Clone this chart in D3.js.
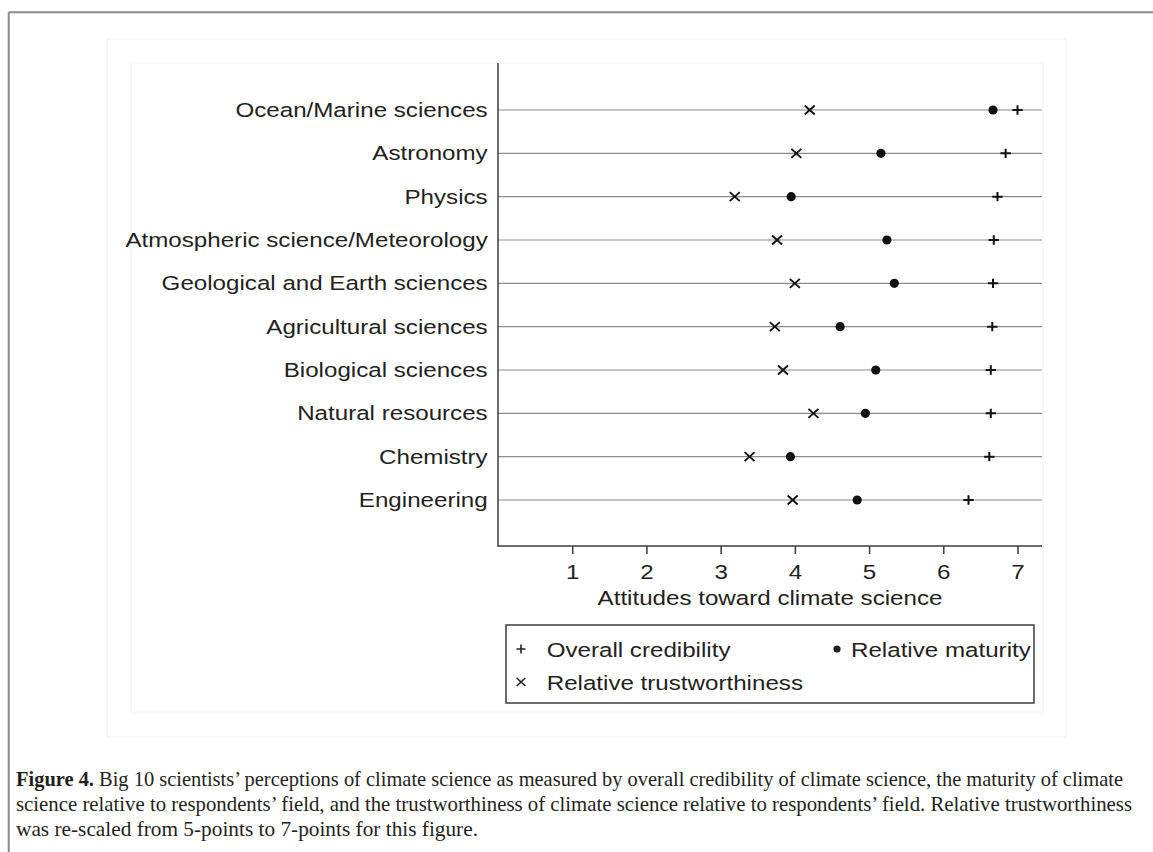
<!DOCTYPE html>
<html>
<head>
<meta charset="utf-8">
<script src="https://cdn.jsdelivr.net/npm/d3@7"></script>
<style>
  body { margin: 0; background: #ffffff; }
  svg { display: block; }
</style>
</head>
<body>
<script>
'use strict';

// fields, top to bottom
const fields = [
  "Ocean/Marine sciences",
  "Astronomy",
  "Physics",
  "Atmospheric science/Meteorology",
  "Geological and Earth sciences",
  "Agricultural sciences",
  "Biological sciences",
  "Natural resources",
  "Chemistry",
  "Engineering"
];

// values (1-7 scale)
const overallCredibility = [7.00, 6.84, 6.73, 6.68, 6.67, 6.66, 6.64, 6.64, 6.62, 6.34];
const relativeMaturity = [6.67, 5.16, 3.95, 5.24, 5.34, 4.61, 5.09, 4.95, 3.94, 4.84];
const relativeTrust = [4.20, 4.02, 3.19, 3.76, 4.00, 3.73, 3.84, 4.25, 3.39, 3.97];

const xTicks = [1, 2, 3, 4, 5, 6, 7];
const xTitle = "Attitudes toward climate science";

const legendLabels = ["Overall credibility", "Relative maturity", "Relative trustworthiness"];

const captionLines = [
  ["Figure 4.", " Big 10 scientists\u2019 perceptions of climate science as measured by overall credibility of climate science, the maturity of climate"],
  ["", "science relative to respondents\u2019 field, and the trustworthiness of climate science relative to respondents\u2019 field. Relative trustworthiness"],
  ["", "was re-scaled from 5-points to 7-points for this figure."]
];

(function() {

  let svg = "";
  const ink = "#231f20";
  const font = "'Liberation Sans', Arial, Helvetica, sans-serif";
  const fs = 20.3;   // glyph height of the chart text
  const sx = 1.19;   // the figure is stretched sideways

  // plot region
  const plot = { left: 498, right: 1042, top: 63, bottom: 546 };

  window.onload = function() {
    svg = d3.select('body')
      .append('svg')
      .attr('width', 1153)
      .attr('height', 852);

    drawFrames();
    let scales = drawAxes();
    plotData(scales);
    drawLegend();
    drawCaption();
  }

  // page border and the faint graph boxes
  function drawFrames() {
    svg.append('line')
      .attr('x1', 8.7).attr('x2', 1153).attr('y1', 12.3).attr('y2', 12.3)
      .attr('stroke', '#8a8a8a').attr('stroke-width', 2);
    svg.append('line')
      .attr('x1', 8.7).attr('x2', 8.7).attr('y1', 12.3).attr('y2', 852)
      .attr('stroke', '#8a8a8a').attr('stroke-width', 2);

    svg.append('rect')
      .attr('x', 107).attr('y', 39).attr('width', 959).attr('height', 698)
      .attr('fill', 'none').attr('stroke', '#efefef').attr('stroke-width', 1);
    svg.append('rect')
      .attr('x', 131).attr('y', 63).attr('width', 912).attr('height', 649)
      .attr('fill', 'none').attr('stroke', '#f2f2f2').attr('stroke-width', 1);
  }

  // stretched text helper
  function addText(parent, x, y, str, anchor) {
    return parent.append('text')
      .attr('transform', 'translate(' + x + ',' + y + ') scale(' + sx + ',1)')
      .attr('text-anchor', anchor || 'start')
      .style('font-family', font)
      .style('font-size', fs + 'px')
      .attr('fill', ink)
      .text(str);
  }

  // axes, gridlines and labels
  function drawAxes() {
    let xScale = d3.scaleLinear()
      .domain([0, 7.33])
      .range([plot.left, plot.right]);

    let yScale = d3.scalePoint()
      .domain(fields)
      .range([110, 500]);

    // horizontal lines for each field
    svg.append('g').selectAll('line')
      .data(fields)
      .enter()
      .append('line')
        .attr('x1', plot.left).attr('x2', plot.right)
        .attr('y1', d => yScale(d)).attr('y2', d => yScale(d))
        .attr('stroke', '#8c8c8c').attr('stroke-width', 1.2);

    // y axis labels
    let yAxis = d3.axisLeft(yScale).tickSize(0).tickPadding(0);
    let yg = svg.append('g')
      .attr('transform', 'translate(' + plot.left + ', 0)')
      .call(yAxis);
    yg.select('.domain').remove();
    yg.selectAll('text')
      .attr('x', null)
      .attr('transform', 'translate(-10.3,0) scale(' + sx + ',1)')
      .style('font-family', font)
      .style('font-size', fs + 'px')
      .attr('fill', ink);

    // x axis
    let xAxis = d3.axisBottom(xScale)
      .tickValues(xTicks)
      .tickFormat(d3.format('d'))
      .tickSize(8)
      .tickSizeOuter(0)
      .tickPadding(11);
    let xg = svg.append('g')
      .attr('transform', 'translate(0, ' + plot.bottom + ')')
      .call(xAxis);
    xg.select('.domain').remove();
    xg.selectAll('.tick line').attr('stroke', '#3c3c3c').attr('stroke-width', 1.5);
    xg.selectAll('text')
      .style('font-family', font)
      .style('font-size', fs + 'px')
      .attr('fill', ink)
      .attr('transform', 'scale(' + sx + ',1)')
      .attr('x', 0);

    // axis lines
    svg.append('line')
      .attr('x1', plot.left).attr('x2', plot.left)
      .attr('y1', plot.top).attr('y2', plot.bottom + 0.75)
      .attr('stroke', '#3c3c3c').attr('stroke-width', 1.5);
    svg.append('line')
      .attr('x1', plot.left).attr('x2', plot.right)
      .attr('y1', plot.bottom).attr('y2', plot.bottom)
      .attr('stroke', '#3c3c3c').attr('stroke-width', 1.5);

    addText(svg, (plot.left + plot.right) / 2, 605, xTitle, 'middle');

    return { x: xScale, y: yScale };
  }

  const plusPath = "M-5.2,0H5.2M0,-4.7V4.7";
  const crossPath = "M-5,-4.5L5,4.5M-5,4.5L5,-4.5";

  // plot the three markers on every row
  function plotData(map) {
    let rows = fields.map((f, i) => ({
      field: f,
      cred: overallCredibility[i],
      mat: relativeMaturity[i],
      trust: relativeTrust[i]
    }));

    let g = svg.append('g');

    g.selectAll('.trust')
      .data(rows)
      .enter()
      .append('path')
        .attr('class', 'trust')
        .attr('d', crossPath)
        .attr('transform', d => 'translate(' + map.x(d.trust) + ',' + map.y(d.field) + ')')
        .attr('stroke', '#111').attr('stroke-width', 1.9).attr('fill', 'none');

    g.selectAll('.mat')
      .data(rows)
      .enter()
      .append('circle')
        .attr('class', 'mat')
        .attr('cx', d => map.x(d.mat))
        .attr('cy', d => map.y(d.field))
        .attr('r', 4.6)
        .attr('fill', '#111');

    g.selectAll('.cred')
      .data(rows)
      .enter()
      .append('path')
        .attr('class', 'cred')
        .attr('d', plusPath)
        .attr('transform', d => 'translate(' + map.x(d.cred) + ',' + map.y(d.field) + ')')
        .attr('stroke', '#111').attr('stroke-width', 2).attr('fill', 'none');
  }

  // legend box under the plot
  function drawLegend() {
    let lg = svg.append('g');
    lg.append('rect')
      .attr('x', 506).attr('y', 625).attr('width', 528).attr('height', 78)
      .attr('fill', '#fff').attr('stroke', '#3c3c3c').attr('stroke-width', 1.5);

    lg.append('path')
      .attr('d', "M-4.5,0H4.5M0,-4.5V4.5")
      .attr('transform', 'translate(521,649)')
      .attr('stroke', ink).attr('stroke-width', 1.6);
    addText(lg, 546.7, 656.5, legendLabels[0]);

    lg.append('circle')
      .attr('cx', 837).attr('cy', 649).attr('r', 3.6).attr('fill', ink);
    addText(lg, 851, 656.5, legendLabels[1]);

    lg.append('path')
      .attr('d', "M-4.3,-4L4.3,4M-4.3,4L4.3,-4")
      .attr('transform', 'translate(521,682)')
      .attr('stroke', ink).attr('stroke-width', 1.6);
    addText(lg, 546.7, 690, legendLabels[2]);
  }

  // figure caption at the bottom, condensed serif
  function drawCaption() {
    let widths = [1107, 1116, 462];
    captionLines.forEach((line, i) => {
      let t = svg.append('text')
        .attr('x', 16)
        .attr('y', 786 + i * 25)
        .attr('textLength', widths[i])
        .attr('lengthAdjust', 'spacingAndGlyphs')
        .style('font-family', "'Liberation Serif', 'Times New Roman', serif")
        .style('font-size', '21px')
        .attr('fill', ink);
      if (line[0]) {
        t.append('tspan').style('font-weight', 'bold').text(line[0]);
      }
      t.append('tspan').text(line[1]);
    });
  }

})();
</script>
</body>
</html>
